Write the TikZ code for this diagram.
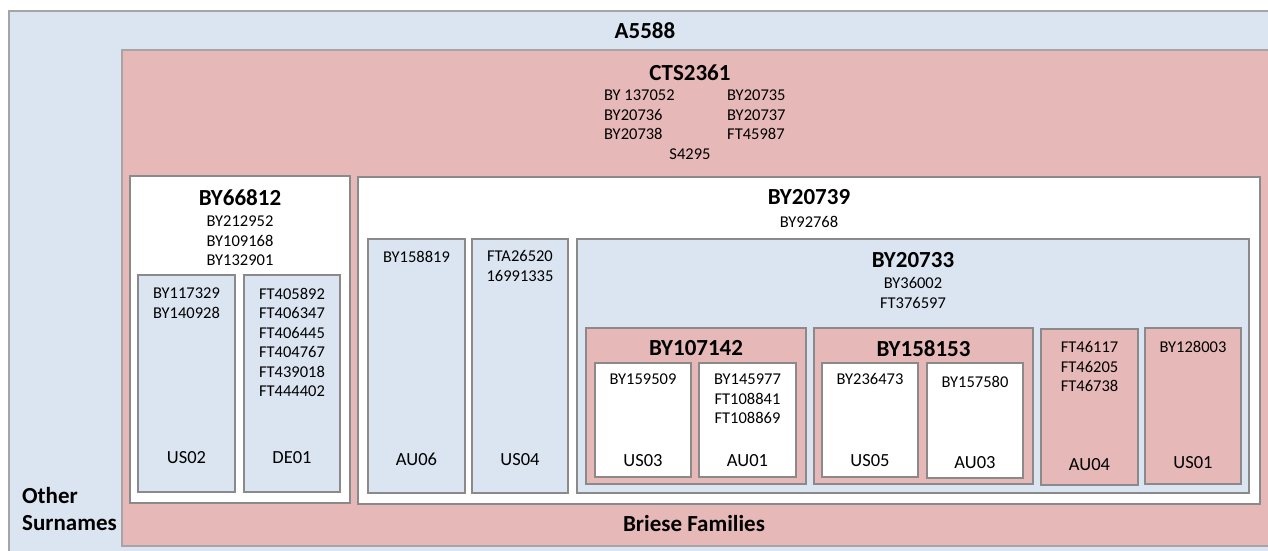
\documentclass[tikz,border=0pt]{standalone}
\usepackage{fontspec}
\setmainfont{Carlito}
\usetikzlibrary{fit}
\definecolor{bordc}{RGB}{138,138,138}
\definecolor{outerc}{RGB}{165,165,165}
\definecolor{skyf}{RGB}{219,228,241}
\definecolor{rosef}{RGB}{230,184,183}
\tikzset{
  box/.style={draw=bordc, line width=1.2pt, inner sep=0pt},
  bluebox/.style={box, fill=skyf},
  pinkbox/.style={box, fill=rosef},
  whitebox/.style={box, fill=white},
  ttl/.style={font=\fontsize{23}{27}\selectfont\bfseries, inner sep=0pt, anchor=north},
  lst/.style={font=\fontsize{16.5}{19.5}\selectfont, align=center, inner sep=0pt, anchor=north},
  lbl/.style={font=\fontsize{18.5}{21}\selectfont, inner sep=0pt, anchor=north},
}
\begin{document}
\begin{tikzpicture}[x=1pt, y=-1pt]
\useasboundingbox (0,0) rectangle (1268,551);
\clip (0,0) rectangle (1268,551);

% outer haplogroup and main branch
\node[bluebox, draw=outerc, fit={(9,11) (1320,600)}] (a5588) {};
\node[pinkbox, draw=outerc, fit={(122,50) (1320,546)}] (cts2361) {};

\node[ttl] (ta5588) at (645,22.6) {A5588};
\node[ttl] (tcts) at (690,64.6) {CTS2361};
\node[lst, align=left, anchor=north west] (ctsl) at (604,89.6) {BY 137052\\BY20736\\BY20738};
\node[lst, align=left, anchor=north west] (ctsr) at (727,89.6) {BY20735\\BY20737\\FT45987};
\node[lst] (cts5) at (690,148.6) {S4295};

% left branch
\node[whitebox, fit={(130,176) (350,503)}] (by66812) {};
\node[ttl] (t66812) at (240,189.6) {BY66812};
\node[lst] (l66812) at (240,215.6) {BY212952\\BY109168\\BY132901};
\node[bluebox, fit={(138,275) (235,492)}] (us02) {};
\node[lst] (lus02) at (186.5,287.6) {BY117329\\BY140928};
\node[lbl] (nus02) at (186.5,451) {US02};
\node[bluebox, fit={(244,275) (340,492)}] (de01) {};
\node[lst] (lde01) at (292,287.6) {FT405892\\FT406347\\FT406445\\FT404767\\FT439018\\FT444402};
\node[lbl] (nde01) at (292,451) {DE01};

% right branch
\node[whitebox, fit={(358,177) (1260,504)}] (by20739) {};
\node[ttl] (t20739) at (809,189.6) {BY20739};
\node[lst] (l20739) at (809,215.6) {BY92768};
\node[bluebox, fit={(368,239) (465,493)}] (au06) {};
\node[lst] (lau06) at (416.5,250.6) {BY158819};
\node[lbl] (nau06) at (416.5,453) {AU06};
\node[bluebox, fit={(472,239) (568,493)}] (us04) {};
\node[lst] (lus04) at (520,250.6) {FTA26520\\16991335};
\node[lbl] (nus04) at (520,453) {US04};

\node[bluebox, fit={(577,239) (1249,493)}] (by20733) {};
\node[ttl] (t20733) at (913,252.6) {BY20733};
\node[lst] (l20733) at (913,277.6) {BY36002\\FT376597};

\node[pinkbox, fit={(586,328) (806,484)}] (by107142) {};
\node[ttl] (t107142) at (696,340.6) {BY107142};
\node[whitebox, fit={(595,363) (691,477)}] (us03) {};
\node[lst] (lus03) at (643,373.6) {BY159509};
\node[lbl] (nus03) at (643,454) {US03};
\node[whitebox, fit={(699,363) (796,477)}] (au01) {};
\node[lst] (lau01) at (747.5,373.6) {BY145977\\FT108841\\FT108869};
\node[lbl] (nau01) at (747.5,454) {AU01};

\node[pinkbox, fit={(814,328) (1033,484)}] (by158153) {};
\node[ttl] (t158153) at (923.5,340.6) {BY158153};
\node[whitebox, fit={(822,363) (918,477)}] (us05) {};
\node[lst] (lus05) at (870,373.6) {BY236473};
\node[lbl] (nus05) at (870,454) {US05};
\node[whitebox, fit={(927,363) (1023,478)}] (au03) {};
\node[lst] (lau03) at (975,375.6) {BY157580};
\node[lbl] (nau03) at (975,456) {AU03};

\node[pinkbox, fit={(1041,329) (1138,485)}] (au04) {};
\node[lst] (lau04) at (1089.5,341.6) {FT46117\\FT46205\\FT46738};
\node[lbl] (nau04) at (1089.5,458) {AU04};
\node[pinkbox, fit={(1145,328) (1241,484)}] (us01) {};
\node[lst] (lus01) at (1193,340.6) {BY128003};
\node[lbl] (nus01) at (1193,456) {US01};

% footer labels
\node[ttl] (briese) at (694,515.6) {Briese Families};
\node[ttl, align=left, anchor=north west, font=\fontsize{23}{27}\selectfont\bfseries] (other) at (22,487.6) {Other\\Surnames};
\end{tikzpicture}
\end{document}
